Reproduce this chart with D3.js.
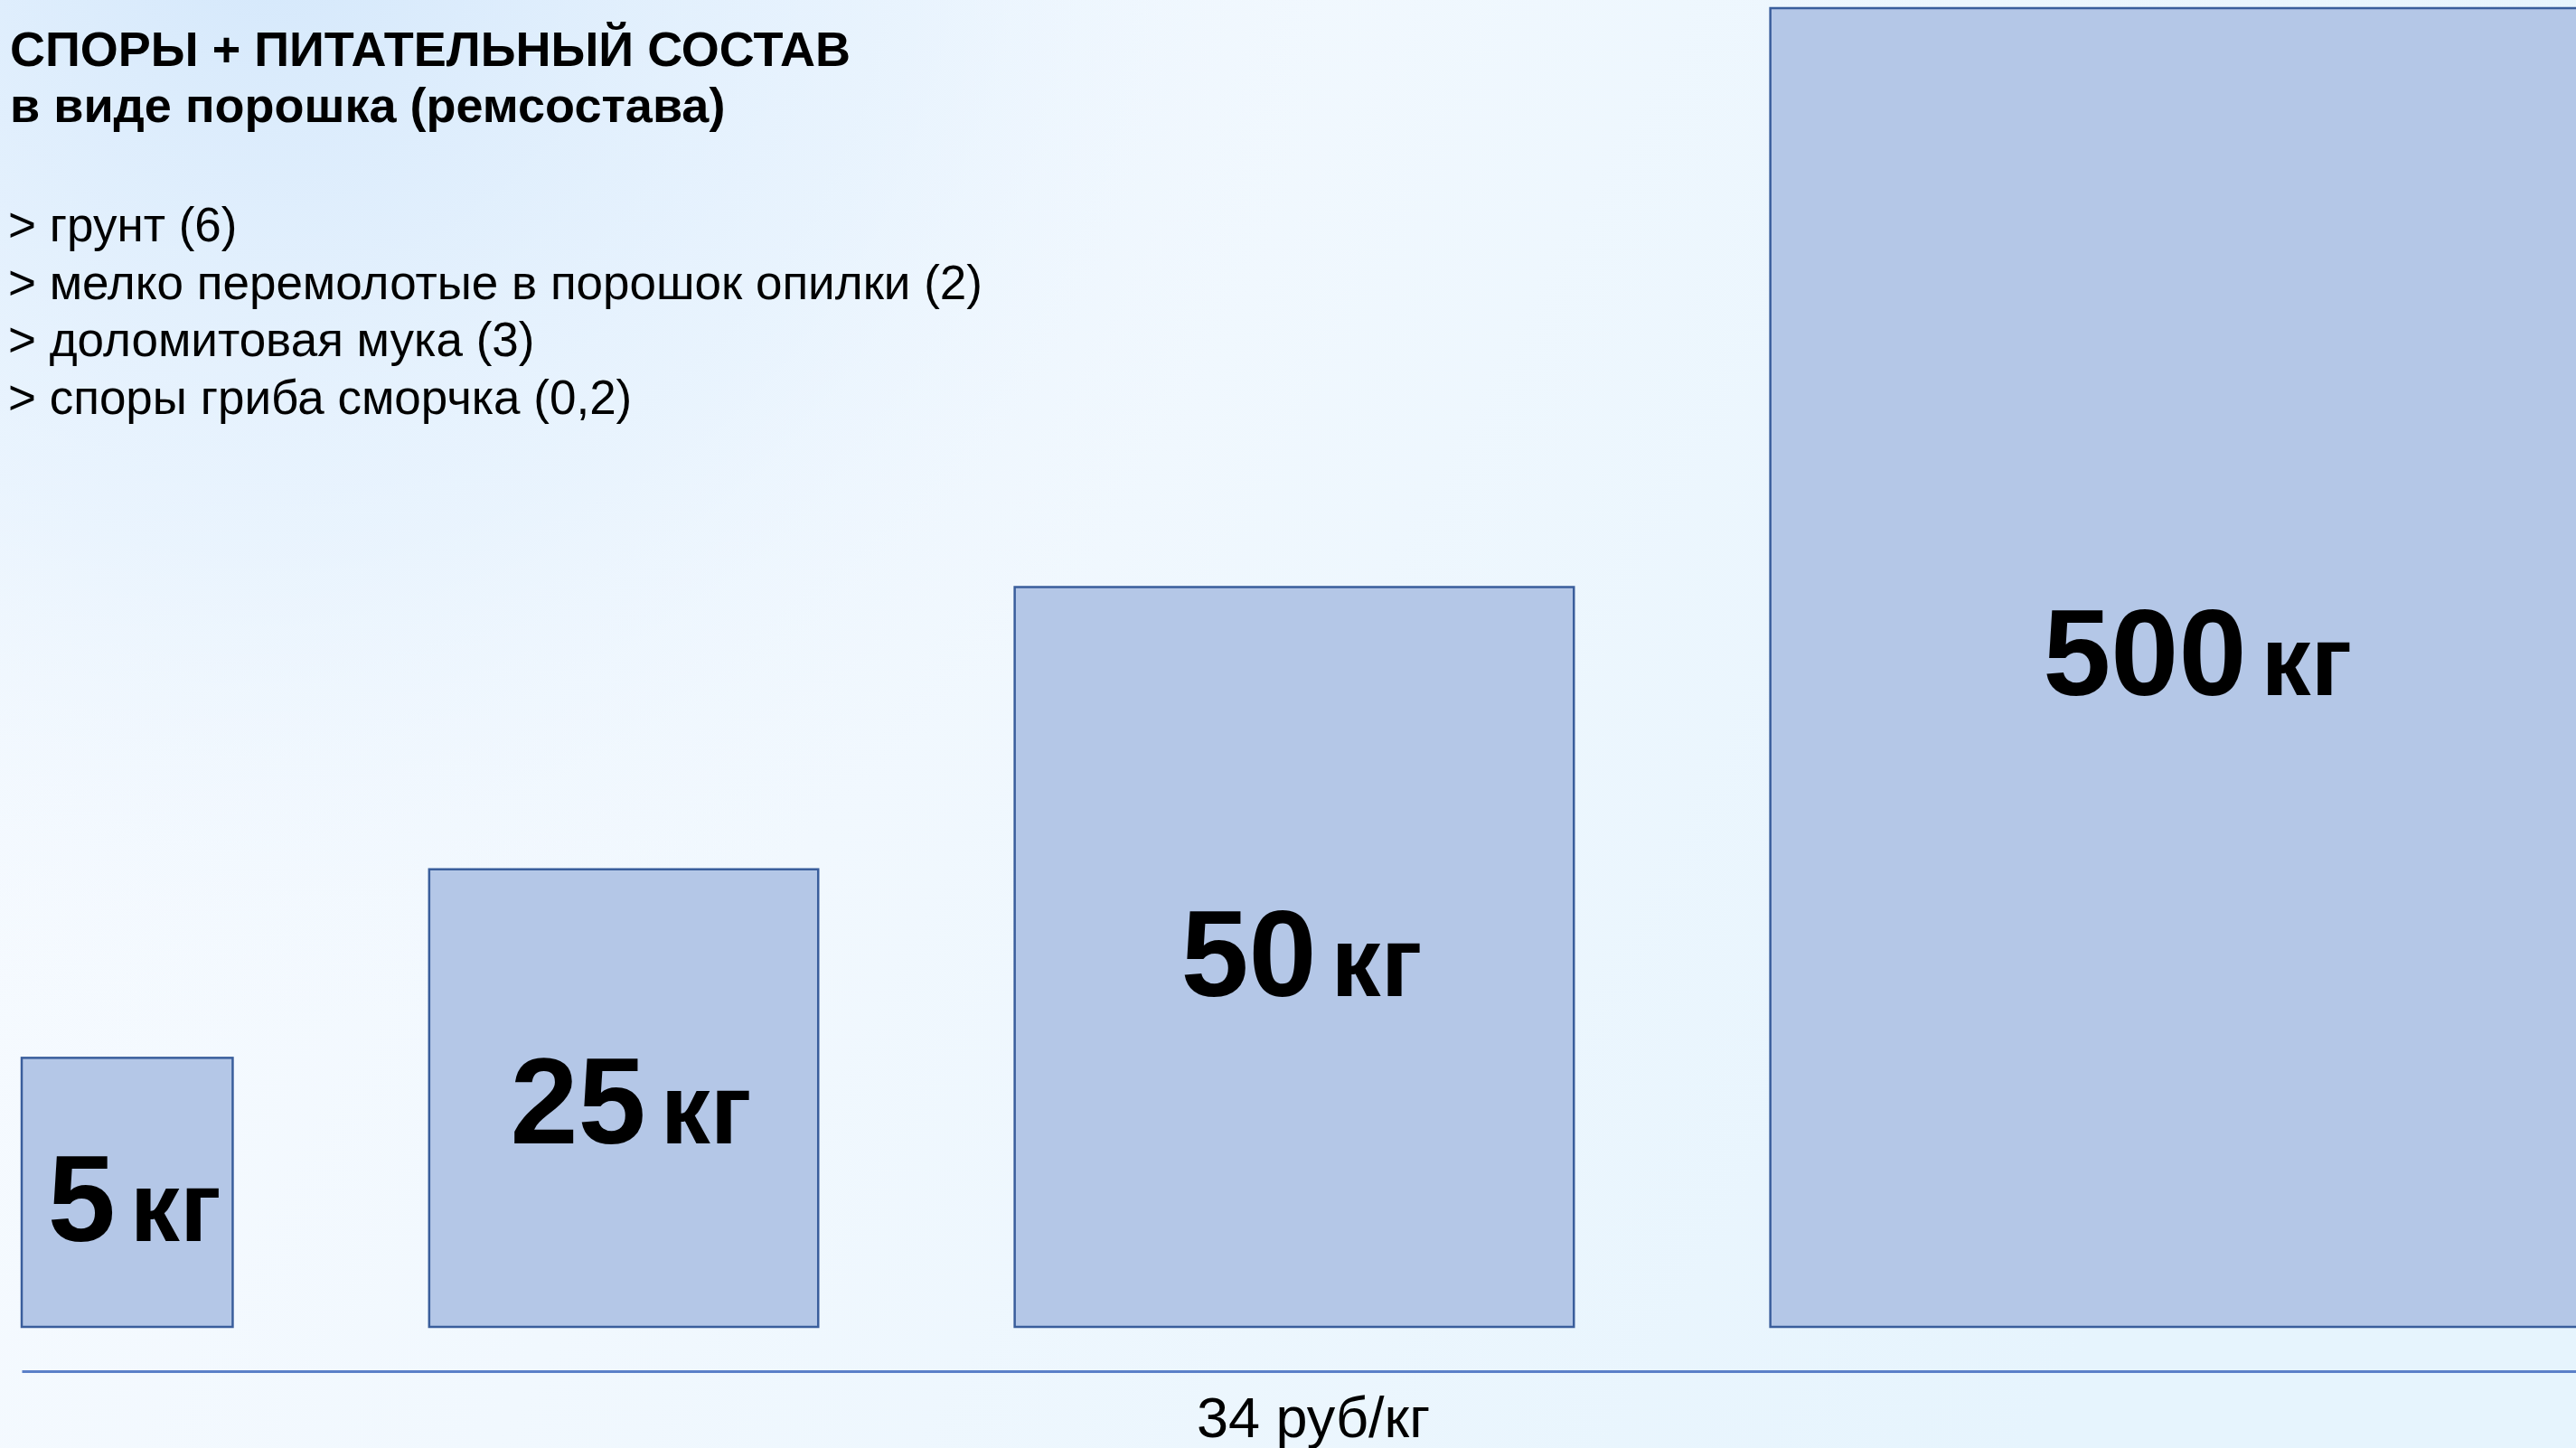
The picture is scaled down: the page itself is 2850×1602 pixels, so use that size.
<!DOCTYPE html>
<html lang="ru">
<head>
<meta charset="utf-8">
<title>Споры + питательный состав</title>
<script src="https://cdn.jsdelivr.net/npm/d3@7"></script>
<style>
  html, body { margin: 0; padding: 0; overflow: hidden; background: #f4f9fe; }
  svg { display: block; font-family: 'Liberation Sans', Arial, sans-serif; }
</style>
</head>
<body>
<svg id="slide" width="2850" height="1602"></svg>
<script>
// ===================================
// Slide data
// ===================================
const titleLines = ['СПОРЫ + ПИТАТЕЛЬНЫЙ СОСТАВ', 'в виде порошка (ремсостава)'];
const ingredients = [
  'грунт',
  'мелко перемолотые в порошок опилки',
  'доломитовая мука',
  'споры гриба сморчка',
];
const ingredientParts = [6, 2, 3, 0.2];

const packKg = [5, 25, 50, 500];
const packUnit = 'кг';
// box footprint in slide units, tallest box = 100
const boxWidth = [16.0, 29.5, 42.4, 63.7];
const boxHeight = [20.4, 34.7, 56.1, 100];

const pricePerKg = 34;
const priceUnit = 'руб/кг';

// ===================================
// Layout
// ===================================
const W = 2850;
const H = 1602;
const baseY = 1468;
const axisY = 1517;
const leftX = 24;
const gapUnits = 14.9;
const numSize = 135;
const unitSize = 110;
const unitGap = 16;

const ru = d3.formatLocale({ decimal: ',', thousands: ' ', grouping: [3], currency: ['', ''] });
const fmt = ru.format('~g');

const svg = d3.select('#slide');
const defs = svg.append('defs');

// background: pale sky gradient with a bluer top-left corner
const bg = defs.append('linearGradient').attr('id', 'bg-lin')
  .attr('x1', 0).attr('y1', 0).attr('x2', 1).attr('y2', 0.3);
bg.append('stop').attr('offset', 0).attr('stop-color', '#f8fbff');
bg.append('stop').attr('offset', 0.45).attr('stop-color', '#f1f8fe');
bg.append('stop').attr('offset', 1).attr('stop-color', '#e6f4fd');

const glow = defs.append('radialGradient').attr('id', 'bg-glow')
  .attr('gradientUnits', 'userSpaceOnUse')
  .attr('cx', 300).attr('cy', -100).attr('r', 1300);
glow.append('stop').attr('offset', 0).attr('stop-color', '#d3e7fb').attr('stop-opacity', 1);
glow.append('stop').attr('offset', 0.55).attr('stop-color', '#e2f0fd').attr('stop-opacity', 0.6);
glow.append('stop').attr('offset', 1).attr('stop-color', '#f4f9fe').attr('stop-opacity', 0);

svg.append('rect').attr('width', W).attr('height', H).attr('fill', 'url(#bg-lin)');
svg.append('rect').attr('width', W).attr('height', H).attr('fill', 'url(#bg-glow)');

// scales: one slide unit maps to the same pixels on both axes
const size = d3.scaleLinear().domain([0, 100]).range([0, 1459]);
const y = d3.scaleLinear().domain([0, 100]).range([baseY, baseY - 1459]);

const offsets = [];
let acc = 0;
boxWidth.forEach((w) => {
  offsets.push(acc);
  acc += w + gapUnits;
});
const x = d3.scaleLinear().domain([0, 100]).range([leftX, leftX + 1459]);

const packs = packKg.map((kg, i) => ({
  kg,
  x0: x(offsets[i]),
  w: size(boxWidth[i]),
  top: y(boxHeight[i]),
}));

// ===================================
// Boxes
// ===================================
const boxes = svg.append('g').attr('class', 'packs');

boxes.selectAll('rect')
  .data(packs)
  .join('rect')
  .attr('x', (d) => d.x0)
  .attr('y', (d) => d.top)
  .attr('width', (d) => d.w)
  .attr('height', (d) => baseY - d.top)
  .attr('fill', '#b4c7e7')
  .attr('stroke', '#3a5e9c')
  .attr('stroke-width', 2.5);

// number + unit, centred as one block; taller boxes sit their label a bit higher
const labels = boxes.selectAll('g.label')
  .data(packs)
  .join('g')
  .attr('class', 'label')
  .attr('transform', (d) => {
    const h = baseY - d.top;
    return `translate(${d.x0 + d.w / 2 + 8},${(d.top + baseY) / 2 + 60 - 0.02 * h})`;
  });

labels.append('text')
  .attr('font-size', numSize)
  .attr('font-weight', 'bold')
  .attr('fill', '#000')
  .text((d) => fmt(d.kg));

labels.append('text')
  .attr('font-size', unitSize)
  .attr('font-weight', 'bold')
  .attr('fill', '#000')
  .text(packUnit);

labels.each(function () {
  const g = d3.select(this);
  const num = g.select('text:nth-child(1)');
  const unit = g.select('text:nth-child(2)');
  const nw = num.node().getComputedTextLength();
  const uw = unit.node().getComputedTextLength();
  const left = -(nw + unitGap + uw) / 2;
  num.attr('x', left);
  unit.attr('x', left + nw + unitGap);
});

// ===================================
// Baseline + price
// ===================================
const axisScale = d3.scaleLinear().domain([0, 1]).range([leftX, W + 5]);
const axis = svg.append('g')
  .attr('transform', `translate(0,${axisY})`)
  .call(d3.axisBottom(axisScale).tickValues([]).tickSizeOuter(0));
axis.select('.domain').attr('stroke', '#5b80c8').attr('stroke-width', 3);

svg.append('text')
  .attr('x', 1453)
  .attr('y', 1590)
  .attr('text-anchor', 'middle')
  .attr('font-size', 63)
  .attr('fill', '#000')
  .text(`${pricePerKg} ${priceUnit}`);

// ===================================
// Title + composition list
// ===================================
svg.append('g').selectAll('text')
  .data(titleLines)
  .join('text')
  .attr('x', 11)
  .attr('y', (d, i) => 73 + i * 62)
  .attr('font-size', 54)
  .attr('font-weight', 'bold')
  .attr('fill', '#000')
  .text((d) => d);

svg.append('g').selectAll('text')
  .data(ingredients)
  .join('text')
  .attr('x', 9)
  .attr('y', (d, i) => 267 + i * 63.5)
  .attr('font-size', 53)
  .attr('fill', '#000')
  .text((d, i) => `> ${d} (${fmt(ingredientParts[i])})`);
</script>
</body>
</html>
